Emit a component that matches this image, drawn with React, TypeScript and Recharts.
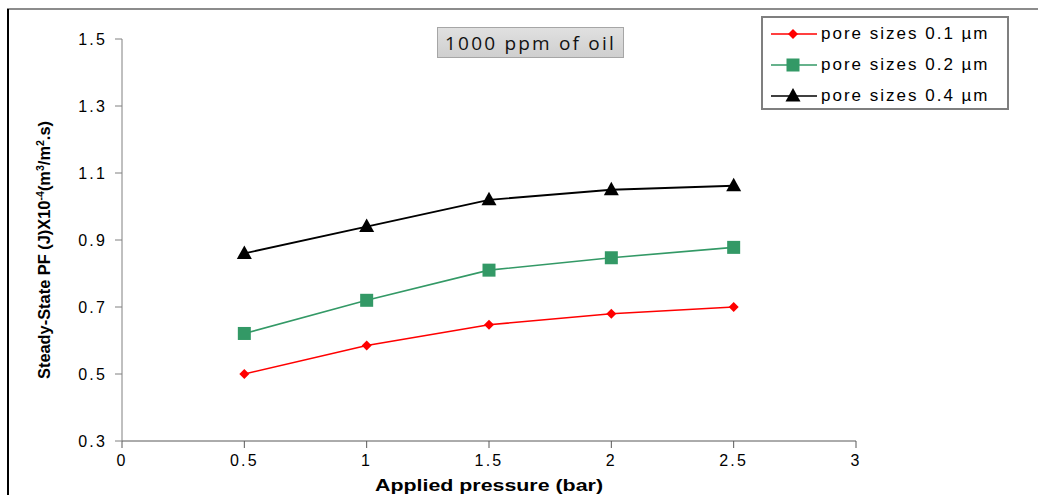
import React from 'react';
import { LineChart, Line, XAxis, YAxis, Legend } from 'recharts';

// Applied pressure (bar)
const pressure = [0.5, 1, 1.5, 2, 2.5];
// Steady-state permeate flux (x10^-4 m3/m2.s) for each membrane pore size
const pore01 = [0.5, 0.585, 0.647, 0.68, 0.7];
const pore02 = [0.621, 0.72, 0.81, 0.847, 0.878];
const pore04 = [0.86, 0.94, 1.02, 1.05, 1.062];

const xTicks = [0, 0.5, 1, 1.5, 2, 2.5, 3];
const yTicks = [0.3, 0.5, 0.7, 0.9, 1.1, 1.3, 1.5];

const seriesNames = ['pore sizes 0.1 µm', 'pore sizes 0.2 µm', 'pore sizes 0.4 µm'];
const seriesColors = ['#ff0000', '#339966', '#000000'];

const data = pressure.map((p, i) => ({
  p,
  s1: pore01[i],
  s2: pore02[i],
  s3: pore04[i],
}));

const FONT = '"Liberation Sans", Arial, sans-serif';

const Diamond = ({ cx, cy, color }: any) => (
  <polygon
    points={`${cx},${cy - 5} ${cx + 5},${cy} ${cx},${cy + 5} ${cx - 5},${cy}`}
    fill={color}
  />
);
const Square = ({ cx, cy, color }: any) => (
  <rect x={cx - 6.5} y={cy - 6.5} width={13} height={13} fill={color} />
);
const Triangle = ({ cx, cy, color }: any) => (
  <polygon
    points={`${cx},${cy - 8} ${cx + 7.5},${cy + 5.5} ${cx - 7.5},${cy + 5.5}`}
    fill={color}
  />
);

const markers = [Diamond, Square, Triangle];

const makeDot = (idx: number) => (props: any) => {
  const M = markers[idx];
  if (props.cx == null || props.cy == null) return <g key={`${idx}-${props.index}`} />;
  return <M key={`${idx}-${props.index}`} cx={props.cx} cy={props.cy} color={seriesColors[idx]} />;
};

const renderLegend = () => (
  <div
    style={{
      border: '2px solid #7f7f7f',
      background: '#fff',
      width: 248,
      height: 94,
      boxSizing: 'border-box',
    }}
  >
    {seriesNames.map((name, i) => {
      const M = markers[i];
      return (
        <div key={name} style={{ display: 'flex', alignItems: 'center', height: 31 }}>
          <svg width={58} height={20} style={{ display: 'block' }}>
            <line x1={8} y1={10} x2={54} y2={10} stroke={seriesColors[i]} strokeWidth={1.6} />
            <M cx={30} cy={10} color={seriesColors[i]} />
          </svg>
          <span
            style={{
              fontFamily: FONT,
              fontSize: 17,
              letterSpacing: 2.0,
              color: '#000',
              whiteSpace: 'nowrap',
            }}
          >
            {name}
          </span>
        </div>
      );
    })}
  </div>
);

const YLabel = () => (
  <text
    x={0}
    y={0}
    transform="translate(50, 250) rotate(-90)"
    textAnchor="middle"
    fontFamily={FONT}
    fontWeight="bold"
    fontSize={17}
    textLength={258}
    lengthAdjust="spacingAndGlyphs"
    fill="#000"
  >
    Steady-State PF (J)X10
    <tspan baselineShift="super" fontSize={11}>-4</tspan>
    (m
    <tspan baselineShift="super" fontSize={11}>3</tspan>
    /m
    <tspan baselineShift="super" fontSize={11}>2</tspan>
    .s)
  </text>
);

const XLabel = (props: any) => {
  const vb = props.viewBox || {};
  const cx = (vb.x ?? 122) + (vb.width ?? 734) / 2;
  return (
    <text
      x={cx}
      y={491}
      textAnchor="middle"
      fontFamily={FONT}
      fontWeight="bold"
      fontSize={17}
      textLength={228}
      lengthAdjust="spacingAndGlyphs"
      fill="#000"
    >
      Applied pressure (bar)
    </text>
  );
};

const tickStyle = { fill: '#000', fontFamily: FONT, fontSize: 16, letterSpacing: 2.2 };

export default function App() {
  return (
    <div style={{ position: 'absolute', left: 0, top: 0, width: 1038, height: 495, background: '#fff' }}>
      {/* outer frame */}
      <div style={{ position: 'absolute', left: 7, top: 8, width: 1031, height: 2, background: '#8c8c8c' }} />
      <div style={{ position: 'absolute', left: 7, top: 9, width: 2, height: 486, background: '#000' }} />
      <LineChart
        width={1038}
        height={495}
        data={data}
        margin={{ top: 39, right: 182, bottom: 0, left: 0 }}
      >
        <XAxis
          dataKey="p"
          type="number"
          domain={[0, 3]}
          ticks={xTicks}
          tickFormatter={(v: number) => String(v)}
          height={54}
          stroke="#595959"
          tickSize={7}
          tickMargin={7}
          tick={tickStyle}
          label={{ content: (p: any) => <XLabel {...p} /> }}
        />
        <YAxis
          type="number"
          domain={[0.3, 1.5]}
          ticks={yTicks}
          tickFormatter={(v: number) => v.toFixed(1)}
          width={122}
          stroke="#808080"
          tickSize={7}
          tickMargin={8}
          tick={tickStyle}
          label={{ content: () => <YLabel /> }}
        />
        <Legend
          layout="vertical"
          align="center"
          verticalAlign="middle"
          content={renderLegend}
          wrapperStyle={{ left: 761, top: 16, width: 248, height: 94 }}
        />
        <Line
          dataKey="s1"
          name={seriesNames[0]}
          stroke={seriesColors[0]}
          strokeWidth={1.6}
          dot={makeDot(0)}
          activeDot={false}
          isAnimationActive={false}
        />
        <Line
          dataKey="s2"
          name={seriesNames[1]}
          stroke={seriesColors[1]}
          strokeWidth={1.6}
          dot={makeDot(1)}
          activeDot={false}
          isAnimationActive={false}
        />
        <Line
          dataKey="s3"
          name={seriesNames[2]}
          stroke={seriesColors[2]}
          strokeWidth={1.8}
          dot={makeDot(2)}
          activeDot={false}
          isAnimationActive={false}
        />
      </LineChart>
      {/* annotation box */}
      <div
        style={{
          position: 'absolute',
          left: 437,
          top: 27,
          width: 187,
          height: 31,
          boxSizing: 'border-box',
          border: '1px solid #a6a6a6',
          background: 'linear-gradient(#e0e0e0, #cfcfcf)',
          display: 'flex',
          alignItems: 'center',
          justifyContent: 'center',
          fontFamily: '"Open Sans", "Noto Sans", sans-serif',
          fontSize: 19,
          letterSpacing: 2.2,
          color: '#111',
          whiteSpace: 'nowrap',
        }}
      >
        1000 ppm of oil
      </div>
    </div>
  );
}
